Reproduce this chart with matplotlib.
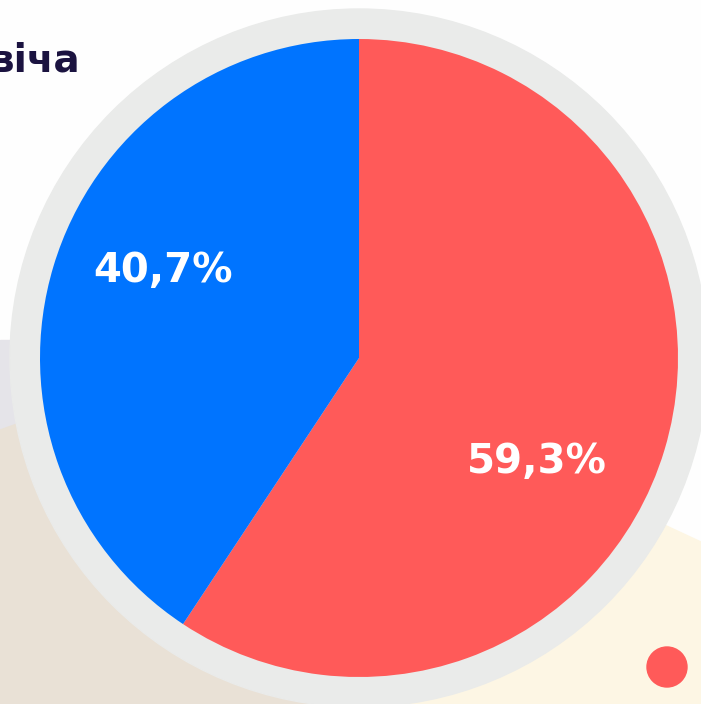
import matplotlib.pyplot as plt
from matplotlib.patches import Circle, Polygon, Rectangle

# data
labels = ['Так', 'Ні']
shares = [59.3, 40.7]
colors = ['#FF5A59', '#0074FF']
title_tail = 'віча'

W, H = 701, 704

def Y(y):
    # picture coords (y down) -> axes coords (y up)
    return H - y

fig = plt.figure(figsize=(W / 100, H / 100), dpi=100, facecolor='#FEFEFE')
ax = fig.add_axes([0, 0, 1, 1])

cx, cy = 359, Y(358)
r_pie = 319
r_ring = 349

# background decoration
ax.add_patch(Rectangle((0, Y(704)), 360, 704 - 340, color='#E5E4E9', zorder=0))
ax.add_patch(Circle((176, Y(898)), 500, color='#E9E1D6', zorder=1))
ax.add_patch(Polygon([(701, Y(542)), (658, Y(522)), (500, Y(448)),
                      (360, Y(704)), (701, Y(704))],
                     closed=True, color='#FDF6E4', zorder=2))
ax.add_patch(Circle((667, Y(667)), 20, color='#FF5A59', zorder=2))

# grey ring behind the pie
ax.add_patch(Circle((cx, cy), r_ring, color='#EAEBEA', zorder=3))

wedges, _ = ax.pie(shares, colors=colors, startangle=90, counterclock=False,
                   center=(cx, cy), radius=r_pie,
                   wedgeprops=dict(linewidth=0, zorder=4))

# percentage labels
label_pos = [(537, Y(462)), (163, Y(271))]
for v, (tx, ty) in zip(shares, label_pos):
    ax.text(tx, ty, f'{v:.1f}'.replace('.', ',') + '%', color='white',
            fontsize=29, fontweight='bold', ha='center', va='center',
            family='DejaVu Sans', zorder=6)

# cut-off title
ax.text(80, Y(71), title_tail, color='#1B1340', fontsize=28,
        fontweight='bold', ha='right', va='baseline', zorder=6)

ax.set_xlim(0, W)
ax.set_ylim(0, H)
ax.set_aspect('equal')
ax.axis('off')

fig.savefig('out.png', dpi=100, facecolor=fig.get_facecolor())
